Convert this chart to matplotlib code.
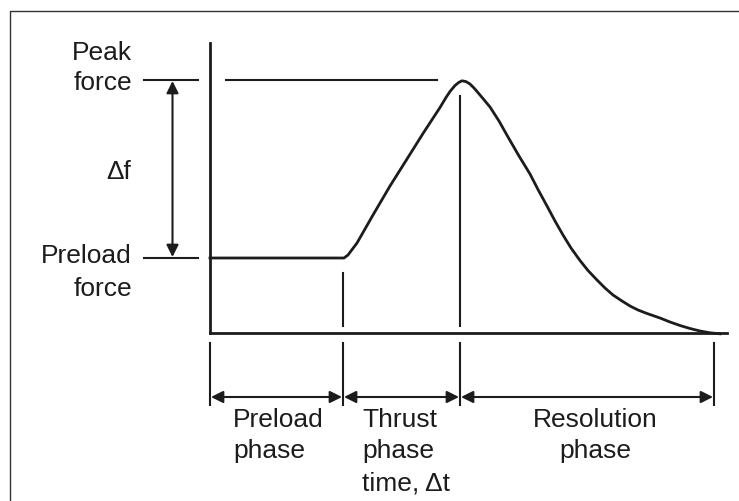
import matplotlib.pyplot as plt

# --- schematic data (pixel-like units, y grows downward) ---
phase_edges = [210, 343, 460, 714]
phase_lines = [["Preload", "phase"],
               ["Thrust", "phase", "time, \u0394t"],
               ["Resolution", "phase"]]
baseline_force = 333
preload_force = 258
peak_force = 80

# force curve: (time, force)
curve_t = [210, 344, 348, 357, 373, 390, 407, 423, 440, 446, 450, 455, 459,
           462, 466, 470, 474, 480, 490, 499, 508, 519, 530, 538, 547, 555,
           563, 571, 580, 588, 597, 605, 613, 622, 630, 638, 647, 660, 670,
           680, 690, 700, 710, 720]
curve_f = [258, 258, 255, 243, 215, 186, 159, 133.5, 107.5, 97.5, 91.5, 85.5, 82.3,
           80.8, 81.6, 84, 88, 95, 107, 121, 137, 156, 174, 189.5, 206, 221,
           235, 248, 260.5, 270.5, 280, 288, 295, 301, 306, 310, 313.5, 318, 322,
           325.5, 328.5, 331, 332.8, 333.8]

ink = '#1c1c1c'
fs = 19
plt.rcParams['font.family'] = ['Liberation Sans', 'DejaVu Sans']

fig = plt.figure(figsize=(7.39, 5.01), dpi=100)
ax = fig.add_axes([0, 0, 1, 1])
ax.set_xlim(0, 739)
ax.set_ylim(501, 0)
ax.axis('off')

# frame (left + top only visible)
ax.plot([10, 10, 739], [501, 11, 11], color='#333333', lw=1.0)

# axes of the schematic
ax.plot([phase_edges[0], phase_edges[0]], [43, baseline_force], color=ink, lw=2.0)
ax.plot([phase_edges[0], 727], [baseline_force, baseline_force], color=ink, lw=2.0)

# force curve
ax.plot(curve_t, curve_f, color=ink, lw=2.0, solid_joinstyle='round')

# guides
ax.plot([226, 437], [peak_force, peak_force], color=ink, lw=1.5)
ax.plot([144, 198], [peak_force, peak_force], color=ink, lw=1.5)
ax.plot([144, 198], [preload_force, preload_force], color=ink, lw=1.5)
ax.plot([phase_edges[1], phase_edges[1]], [273, 326], color=ink, lw=1.5)
ax.plot([phase_edges[2], phase_edges[2]], [96, 326], color=ink, lw=1.5)

# delta f arrow
ax.annotate('', xy=(172.5, peak_force + 1), xytext=(172.5, preload_force - 1),
            arrowprops=dict(arrowstyle='<|-|>', color=ink, lw=1.5,
                            mutation_scale=18, shrinkA=0, shrinkB=0))
ax.text(131, 179, "\u0394f", fontsize=fs, ha='right', va='baseline', color=ink)

# left labels
left_labels = [("Peak", 60), ("force", 90), ("Preload", 263), ("force", 296)]
for s, yb in left_labels:
    ax.text(132, yb, s, fontsize=fs, ha='right', va='baseline', color=ink)

# phase ticks and arrows
for x in phase_edges:
    ax.plot([x, x], [343, 405], color=ink, lw=1.5)
for i in range(3):
    ax.annotate('', xy=(phase_edges[i] + 1, 397), xytext=(phase_edges[i + 1] - 1, 397),
                arrowprops=dict(arrowstyle='<|-|>', color=ink, lw=1.5,
                                mutation_scale=18, shrinkA=0, shrinkB=0))

label_x = [(233, 'left'), (362, 'left'), (595, 'center')]
line_y = [427, 458, 490]
for (lx, ha), lines in zip(label_x, phase_lines):
    for s, yb in zip(lines, line_y):
        ax.text(lx, yb, s, fontsize=fs, ha=ha, va='baseline', color=ink)

fig.savefig('out.png', dpi=100)
